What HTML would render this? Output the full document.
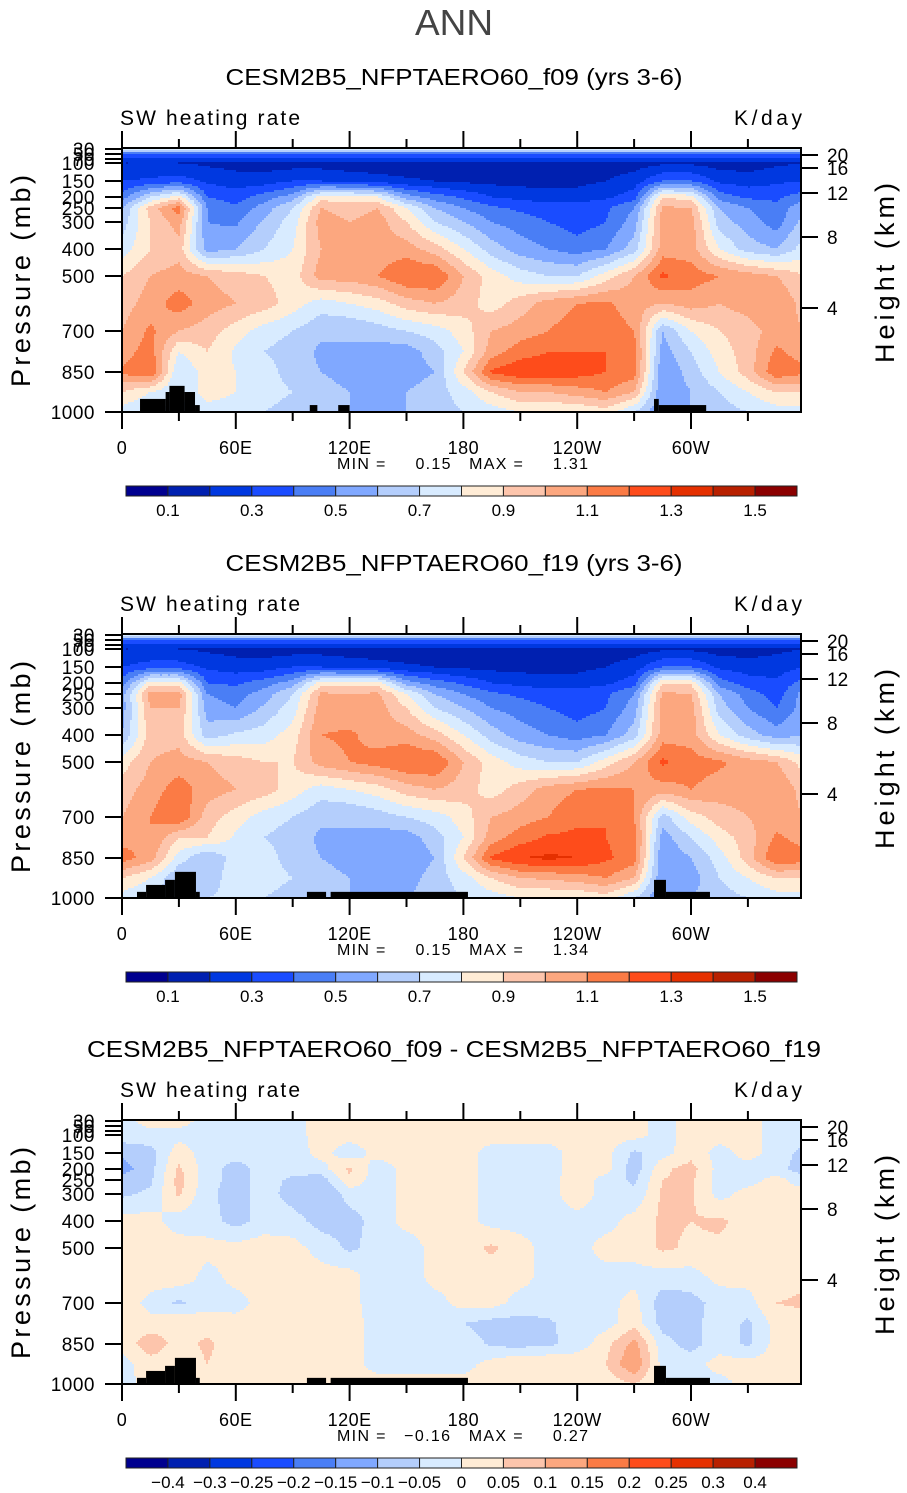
<!DOCTYPE html>
<html><head><meta charset="utf-8"><style>
html,body{margin:0;padding:0;background:#fff;}
svg{display:block;font-family:"Liberation Sans",sans-serif;}
</style></head><body>
<svg id="chart" width="907" height="1493" viewBox="0 0 907 1493" xmlns="http://www.w3.org/2000/svg">
<text x="454" y="35" text-anchor="middle" font-size="36" fill="#444" textLength="78" lengthAdjust="spacingAndGlyphs">ANN</text>
</svg>
<script>
const lons=[0,15,30,45,60,75,90,105,120,135,150,165,180,195,210,225,240,255,270,285,300,315,330,345,360];
const pLevs=[30,50,70,100,150,200,250,300,400,500,600,700,775,850,925,1000];
const p3Levs=[30,100,150,200,250,300,400,500,600,700,775,850,925,1000];
const presTicks=[30,50,70,100,150,200,250,300,400,500,700,850,1000];
const kmTicks=[20,16,12,8,4];
const lonTicks=[0,60,120,180,240,300];
const lonLabels=["0","60E","120E","180","120W","60W"];
const absBounds=[0.1,0.2,0.3,0.4,0.5,0.6,0.7,0.8,0.9,1.0,1.1,1.2,1.3,1.4,1.5];
const absLabels=["0.1","0.3","0.5","0.7","0.9","1.1","1.3","1.5"];
const diffBounds=[-0.4,-0.3,-0.25,-0.2,-0.15,-0.1,-0.05,0,0.05,0.1,0.15,0.2,0.25,0.3,0.4];
const diffLabels=["\u22120.4","\u22120.3","\u22120.25","\u22120.2","\u22120.15","\u22120.1","\u22120.05","0","0.05","0.1","0.15","0.2","0.25","0.3","0.4"];
const colors=["#00008f","#0020b0","#0038e0","#1a4cff","#4a7ef5","#80a8ff","#b4cefc","#d8ebff","#ffecd6","#fdc5ac","#fca77f","#fb7b45","#fe4c1b","#e53000","#b82000","#8b0000"];

const f09Rows=[
[.75,.75,.75,.75,.75,.75,.75,.75,.75,.75,.75,.75,.75,.75,.75,.75,.75,.75,.75,.75,.75,.75,.75,.75,.75],
[.4,.4,.4,.4,.4,.4,.4,.4,.4,.4,.4,.4,.4,.4,.4,.4,.4,.4,.4,.4,.4,.4,.4,.4,.4],
[.28,.28,.28,.28,.28,.28,.28,.28,.28,.28,.28,.28,.28,.28,.28,.28,.28,.28,.28,.28,.28,.28,.28,.28,.28],
[.2,.2,.2,.18,.16,.15,.15,.15,.13,.12,.12,.12,.12,.12,.12,.12,.13,.15,.15,.18,.18,.15,.15,.18,.2],
[.3,.32,.35,.28,.25,.25,.3,.3,.28,.25,.22,.2,.18,.17,.16,.16,.17,.2,.25,.4,.4,.28,.25,.28,.3],
[.45,.7,.85,.4,.35,.45,.55,.85,.85,.8,.55,.45,.38,.3,.27,.25,.25,.28,.35,.9,.85,.45,.38,.38,.45],
[.6,.95,1.15,.5,.42,.55,.7,1.0,.95,1.0,.8,.6,.5,.42,.38,.35,.35,.38,.5,1.02,1.0,.6,.5,.42,.6],
[.65,.9,1.05,.5,.48,.62,.75,1.05,1.0,1.05,.9,.7,.6,.5,.45,.4,.35,.4,.55,1.05,1.05,.65,.55,.45,.65],
[.75,.9,.95,.55,.6,.7,.8,1.0,1.05,1.05,1.05,.95,.8,.65,.55,.5,.45,.5,.65,1.05,1.05,.8,.65,.6,.75],
[.9,1.0,1.05,1.0,.95,.9,.85,1.05,1.05,1.1,1.2,1.2,1.0,.85,.75,.7,.7,.85,1.0,1.22,1.15,1.1,1.05,1.0,.9],
[.95,1.05,1.15,1.05,1.0,.95,.85,.75,.8,.85,.95,1.0,.95,.85,.95,1.05,1.1,1.12,1.05,1.0,1.05,1.0,1.05,1.1,.95],
[1.0,1.12,1.0,.95,.85,.75,.7,.62,.6,.65,.7,.75,.85,1.0,1.05,1.1,1.15,1.15,1.1,.6,.8,.9,.95,1.05,1.0],
[1.05,1.15,.8,.9,.78,.7,.65,.58,.6,.55,.55,.65,.8,1.05,1.15,1.2,1.2,1.2,1.15,.55,.7,.85,.95,1.12,1.05],
[1.12,1.2,.7,.85,.8,.75,.65,.6,.55,.5,.55,.6,.9,1.22,1.28,1.28,1.25,1.2,1.15,.5,.65,.8,.95,1.18,1.12],
[.9,.8,.7,.85,.8,.75,.7,.65,.6,.55,.6,.65,.75,.9,1.0,1.0,1.05,1.1,1.0,.5,.6,.7,.8,.9,.9],
[.75,.7,.65,.75,.75,.7,.65,.65,.6,.6,.6,.65,.7,.75,.8,.8,.8,.85,.7,.5,.6,.65,.7,.75,.75]];

const f19Rows=[
[.75,.75,.75,.75,.75,.75,.75,.75,.75,.75,.75,.75,.75,.75,.75,.75,.75,.75,.75,.75,.75,.75,.75,.75,.75],
[.4,.4,.4,.4,.4,.4,.4,.4,.4,.4,.4,.4,.4,.4,.4,.4,.4,.4,.4,.4,.4,.4,.4,.4,.4],
[.28,.28,.28,.28,.28,.28,.28,.28,.28,.28,.28,.28,.28,.28,.28,.28,.28,.28,.28,.28,.28,.28,.28,.28,.28],
[.2,.2,.2,.18,.16,.15,.15,.15,.13,.12,.12,.12,.12,.12,.12,.12,.13,.15,.15,.18,.18,.15,.15,.18,.2],
[.3,.35,.35,.28,.25,.25,.3,.3,.28,.25,.22,.2,.18,.17,.16,.16,.17,.2,.25,.4,.4,.28,.25,.25,.3],
[.45,.85,.85,.4,.38,.45,.55,.85,.85,.85,.55,.45,.38,.3,.27,.25,.25,.28,.35,.9,.88,.45,.35,.32,.45],
[.55,1.05,1.05,.5,.45,.55,.7,1.02,1.0,1.02,.8,.6,.5,.42,.38,.35,.35,.38,.5,1.02,1.0,.6,.45,.35,.55],
[.55,1.0,1.0,.55,.5,.62,.75,1.05,1.02,1.05,.9,.7,.6,.5,.45,.4,.35,.4,.55,1.05,1.05,.65,.5,.4,.55],
[.6,.95,.95,.65,.72,.75,.85,1.1,1.12,1.05,1.05,.95,.8,.65,.55,.5,.45,.5,.65,1.05,1.05,.8,.65,.55,.6],
[.85,1.0,1.05,1.0,.95,.9,.9,1.05,1.1,1.15,1.2,1.2,1.0,.85,.75,.7,.7,.85,1.0,1.22,1.15,1.12,1.05,1.0,.85],
[.95,1.05,1.15,1.05,1.0,.95,.85,.75,.8,.85,.95,1.0,.95,.85,.95,1.05,1.1,1.12,1.1,1.05,1.1,1.05,1.05,1.1,.95],
[1.0,1.1,1.2,.95,.85,.75,.7,.62,.6,.65,.7,.75,.85,1.0,1.05,1.1,1.18,1.2,1.1,.65,.85,.95,1.0,1.05,1.0],
[1.05,1.1,.9,.9,.78,.7,.65,.58,.6,.55,.55,.65,.8,1.05,1.15,1.22,1.22,1.2,1.15,.55,.7,.85,.95,1.12,1.05],
[1.15,1.05,.75,.6,.75,.75,.65,.6,.55,.5,.52,.6,.9,1.22,1.3,1.32,1.3,1.22,1.15,.5,.6,.75,.95,1.2,1.15],
[.9,.8,.6,.6,.8,.75,.7,.65,.6,.55,.55,.65,.75,.9,1.0,1.02,1.05,1.1,1.0,.5,.55,.7,.8,.9,.9],
[.75,.7,.65,.7,.75,.7,.65,.65,.6,.6,.6,.65,.7,.75,.8,.8,.8,.85,.7,.5,.6,.65,.7,.75,.75]];

const diffRows=[
[-.02,.02,.02,-.02,-.02,-.02,-.02,.02,.02,.02,.02,.02,.02,.02,.02,.02,.02,.02,.02,-.02,.02,.02,.02,-.02,-.02],
[-.02,-.02,-.02,-.02,-.02,-.02,-.02,.02,.02,.02,.02,.02,.02,.02,.02,.02,.02,.02,.02,-.02,.02,.02,.02,-.02,-.02],
[-.09,-.07,.03,-.03,-.03,-.03,-.03,.02,-.03,.02,.02,.02,.02,-.02,-.02,-.02,.02,.02,-.06,-.02,.03,-.02,.02,-.02,-.07],
[-.12,-.07,.06,-.03,-.07,-.03,-.03,-.02,.06,-.03,.02,.02,.02,-.02,-.02,-.02,.02,.02,-.08,.04,.07,-.02,-.02,-.03,-.08],
[-.08,-.06,.07,-.03,-.07,-.03,-.06,-.08,.04,-.03,.02,.02,.02,-.02,-.02,-.02,.03,-.02,-.06,.05,.06,-.02,-.02,.02,-.03],
[-.06,-.04,.06,-.04,-.07,-.03,-.07,-.1,-.03,-.03,.02,.02,.02,-.02,-.02,-.02,.03,-.02,-.04,.06,.06,-.02,.02,.02,.02],
[.02,.02,-.03,-.03,-.07,-.03,-.03,-.07,-.07,-.03,.02,.02,.02,-.02,-.02,-.02,-.02,-.02,.02,.06,.05,.06,.03,.02,.02],
[.04,.04,.03,.02,.02,.03,.02,-.02,-.06,-.03,-.03,.02,.03,.06,.02,-.02,-.02,.02,.02,.06,.04,.04,.02,.02,.03],
[.04,.03,.04,-.02,.02,.02,.03,.02,.02,-.03,-.03,.02,.02,.02,.02,-.02,-.02,-.02,-.02,-.02,-.02,.02,.02,.02,.04],
[.04,-.02,-.06,-.02,-.02,.02,.02,.05,.02,-.03,-.03,-.02,.02,.02,-.02,-.02,-.02,-.02,.02,-.08,-.07,-.03,-.02,.05,.06],
[.03,.02,.05,.03,.02,.02,.03,.02,.02,-.02,-.02,-.02,-.05,-.07,-.07,-.06,-.02,-.02,.03,-.07,-.07,-.02,-.06,.02,.03],
[.02,.08,.03,.06,.02,.02,.04,.02,.02,-.02,-.02,-.02,-.02,-.06,-.07,-.06,-.03,.03,.12,-.03,-.07,-.02,-.06,.02,.04],
[-.02,.03,.02,.05,.02,.02,.05,.02,.02,-.02,-.02,-.02,-.02,.02,.05,.05,.04,.05,.15,-.02,-.02,.02,.02,.02,.02],
[-.02,.02,.02,.02,.02,.02,.02,.02,.02,.02,.02,.02,.02,.02,.02,.02,.02,.02,.05,-.02,-.02,-.02,.02,.02,.02]];

const terrainF09=[[9.5,23,951],[23,25,925],[25,33,902],[33,38.5,925],[38.5,41,974],[99,103,974],[114,120,974],[280.5,283,951],[283,308,974]];
const terrainF19=[[7.9,12.7,977],[12.7,22.7,951],[22.7,27.9,932],[27.9,39,902],[39,41,977],[97.5,107.6,977],[110,182.4,977],[280.5,286.8,932],[286.8,310,977]];

const svg=document.getElementById('chart');
const NS="http://www.w3.org/2000/svg";
const X0=122,X1=801,PH=264;
function xScale(lon){return X0+lon*113.8/60;}
function yOff(p){
  const P=[30,50,70,100,150,200,250,300,400,500,700,850,1000];
  const Y=[1,6,11,15,33,49,60,74,101,128,183,224,264];
  if(p<=P[0])return Y[0];
  for(let i=0;i<P.length-1;i++){if(p<=P[i+1]){const t=(p-P[i])/(P[i+1]-P[i]);return Y[i]+t*(Y[i+1]-Y[i]);}}
  return Y[Y.length-1];
}
function kmOff(k){const K=[20,16,12,8,4,0];const Y=[7,20,45,89,160,264];
  for(let i=0;i<K.length-1;i++){if(k>=K[i+1]){const t=(K[i]-k)/(K[i]-K[i+1]);return Y[i]+t*(Y[i+1]-Y[i]);}}return 264;}
function el(tag,attrs,parent){const e=document.createElementNS(NS,tag);for(const k in attrs)e.setAttribute(k,attrs[k]);(parent||svg).appendChild(e);return e;}
function txt(s,attrs,parent){const e=el('text',attrs,parent);e.textContent=s;return e;}
function level(v,b){let i=0;while(i<b.length&&v>=b[i])i++;return i;}

function drawPanel(top,title,titleLen,rows,levs,bounds,terrain,minmax,cbLabels,cbLabelBounds,name){
  const g=el('g',{});
  
  
  const t=txt(title,{x:454,y:top-63,'text-anchor':'middle','font-size':23,fill:'#000',textLength:titleLen,lengthAdjust:'spacingAndGlyphs'},g);
  
  
  const s1=txt('SW heating rate',{x:120,y:top-23,'font-size':21,fill:'#000',textLength:180,lengthAdjust:'spacing'},g);
  
  
  const s2=txt('K/day',{x:734,y:top-23,'font-size':21,fill:'#000',textLength:68,lengthAdjust:'spacing'},g);
  
  
  const fg=el('g',{},g);
  
  
  const rowY=levs.map(p=>top+yOff(p));
  function val(lon,y){
    let f=Math.min(lon/15,lons.length-1.0001);let i=Math.min(Math.floor(f),lons.length-2);let tx=f-i;
    let j=0;while(j<rowY.length-2&&y>rowY[j+1])j++;
    let ty=(y-rowY[j])/(rowY[j+1]-rowY[j]);ty=Math.max(0,Math.min(1,ty));
    const a=rows[j][i]*(1-tx)+rows[j][i+1]*tx;
    const b=rows[j+1][i]*(1-tx)+rows[j+1][i+1]*tx;
    return a*(1-ty)+b*ty;
  }
  const step=2;
  for(let y=top;y<top+PH;y+=step){
    let runStart=X0,runLev=-1;
    for(let x=X0;x<=X1+2;x+=step){
      const lon=(x+1-X0)*60/113.8;
      const lv=(x>=X1)?-2:level(val(lon,y+1),bounds);
      if(lv!==runLev){
        if(runLev>=0){
          const r=el('rect',{x:runStart,y:y,width:Math.min(x,X1)-runStart+0.5,height:step+0.5,fill:colors[runLev]},fg);
          
          
        }
        runStart=x;runLev=lv;
      }
    }
  }
  terrain.forEach(tr=>{
    const x=xScale(tr[0]),w=xScale(tr[1])-x,y=top+yOff(tr[2]);
    const r=el('rect',{x:x,y:y,width:w,height:top+PH-y,fill:'#000'},g);
    
    
  });
  const fr=el('rect',{x:X0,y:top,width:X1-X0,height:PH,fill:'none',stroke:'#000','stroke-width':2},g);
  
  
  for(let lon=0;lon<360;lon+=30){
    const x=xScale(lon);const major=lon%60===0;const L=major?17:9;
    el('line',{x1:x,y1:top,x2:x,y2:top-L,stroke:'#000','stroke-width':2},g);
    el('line',{x1:x,y1:top+PH,x2:x,y2:top+PH+L,stroke:'#000','stroke-width':2},g);
  }
  lonTicks.forEach((lon,i)=>{
    const l=txt(lonLabels[i],{x:xScale(lon),y:top+PH+42,'text-anchor':'middle','font-size':18,fill:'#000','letter-spacing':0.5},g);
    
    
  });
  presTicks.forEach(p=>{
    const y=top+yOff(p);
    el('line',{x1:X0,y1:y,x2:X0-17,y2:y,stroke:'#000','stroke-width':2},g);
    const l=txt(String(p),{x:95,y:y+7,'text-anchor':'end','font-size':19,fill:'#000','letter-spacing':0.5},g);
    
    
  });
  kmTicks.forEach(k=>{
    const y=top+kmOff(k);
    el('line',{x1:X1,y1:y,x2:X1+17,y2:y,stroke:'#000','stroke-width':2},g);
    const l=txt(String(k),{x:827,y:y+7,'font-size':19,fill:'#000'},g);
    
    
  });
  const ya=txt('Pressure (mb)',{x:0,y:0,'text-anchor':'middle','font-size':27,fill:'#000',textLength:212,lengthAdjust:'spacing',transform:`translate(30,${top+133}) rotate(-90)`},g);
  
  
  const yb=txt('Height (km)',{x:0,y:0,'text-anchor':'middle','font-size':27,fill:'#000',textLength:180,lengthAdjust:'spacing',transform:`translate(894,${top+125}) rotate(-90)`},g);
  
  
  const mm=txt(minmax,{x:337,y:top+PH+57,'font-size':16,fill:'#000',textLength:251,lengthAdjust:'spacing'},g);
  
  
  mm.style.whiteSpace='pre';
  const cb=el('g',{},g);
  
  
  const cbx=126,cbw=671/16,cby=top+338;
  colors.forEach((c,i)=>{
    const r=el('rect',{x:cbx+i*cbw,y:cby,width:cbw,height:10,fill:c,stroke:'#222','stroke-width':1},cb);
    
    
  });
  cbLabels.forEach((s,i)=>{
    const bi=cbLabelBounds[i];
    const l=txt(s,{x:cbx+(bi+1)*cbw,y:cby+30,'text-anchor':'middle','font-size':17,fill:'#000'},cb);
    
    
  });
}
drawPanel(148,'CESM2B5_NFPTAERO60_f09 (yrs 3-6)',457,f09Rows,pLevs,absBounds,terrainF09,'MIN =     0.15   MAX =     1.31',absLabels,[0,2,4,6,8,10,12,14],'f09');
drawPanel(634,'CESM2B5_NFPTAERO60_f19 (yrs 3-6)',457,f19Rows,pLevs,absBounds,terrainF19,'MIN =     0.15   MAX =     1.34',absLabels,[0,2,4,6,8,10,12,14],'f19');
drawPanel(1120,'CESM2B5_NFPTAERO60_f09 - CESM2B5_NFPTAERO60_f19',734,diffRows,p3Levs,diffBounds,terrainF19,'MIN =   \u22120.16   MAX =     0.27',diffLabels,[0,1,2,3,4,5,6,7,8,9,10,11,12,13,14],'difference');
</script>
</body></html>
